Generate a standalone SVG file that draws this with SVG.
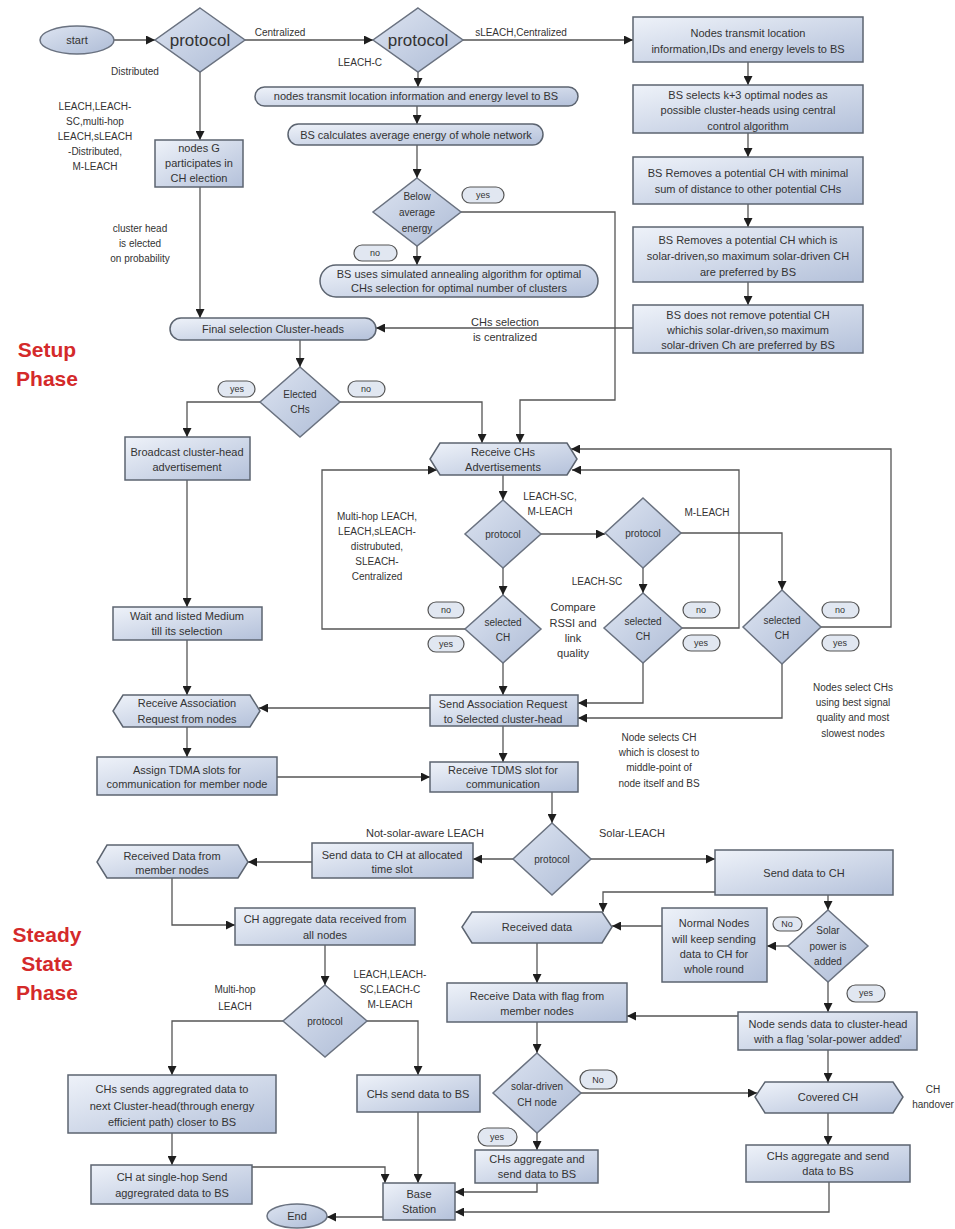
<svg xmlns="http://www.w3.org/2000/svg" width="955" height="1229" viewBox="0 0 955 1229">
<defs>
<linearGradient id="g" x1="0" y1="0" x2="1" y2="1"><stop offset="0" stop-color="#eef2f9"/><stop offset="1" stop-color="#b4c1da"/></linearGradient>
<linearGradient id="gd" x1="0" y1="0" x2="1" y2="1"><stop offset="0" stop-color="#dde4f1"/><stop offset="1" stop-color="#aebcd6"/></linearGradient>
<marker id="a" viewBox="0 0 10 10" refX="10" refY="5" markerWidth="9" markerHeight="9" orient="auto" markerUnits="userSpaceOnUse"><path d="M0,0 L10,5 L0,10 z" fill="#1e1e1e"/></marker>
<style>
.n{fill:url(#g);stroke:#5c6470;stroke-width:1.5}
.d{fill:url(#gd);stroke:#6a7280;stroke-width:1.5}
.c path{fill:none;stroke:#555;stroke-width:1.3}
.c .l{marker-end:url(#a)}
.t{font-family:"Liberation Sans",Arial,sans-serif;font-size:11px;fill:#333;text-anchor:middle}
.s{font-size:10px}
.pl{fill:#e1e7f1;stroke:#555;stroke-width:1.2}
.pt{font-family:"Liberation Sans",Arial,sans-serif;font-size:9px;fill:#333;text-anchor:middle}
.ph{font-family:"Liberation Sans",Arial,sans-serif;font-weight:bold;font-size:21px;fill:#d42a2a;text-anchor:middle}
</style>
</defs>
<rect width="955" height="1229" fill="#fff"/>

<g id="connectors" class="c">
<path class="l" d="M113,40 H155"/>
<path class="l" d="M245,40 H373"/>
<path class="l" d="M463,40 H633"/>
<path class="l" d="M200,72 V140"/>
<path class="l" d="M200,187 V318"/>
<path class="l" d="M418,72 V87"/>
<path class="l" d="M417,106 V124"/>
<path class="l" d="M417,145 V178"/>
<path class="l" d="M417,246 V265"/>
<path class="l" d="M461,212 H615 V400 H520 V443"/>
<path class="l" d="M748,62 V85"/>
<path class="l" d="M748,133 V157"/>
<path class="l" d="M748,204 V227"/>
<path class="l" d="M748,282 V305"/>
<path class="l" d="M633,328 H376"/>
<path class="l" d="M300,340 V367"/>
<path class="l" d="M260,402 H187 V437"/>
<path class="l" d="M340,402 H482 V443"/>
<path class="l" d="M187,480 V607"/>
<path class="l" d="M187,640 V695"/>
<path class="l" d="M187,727 V757"/>
<path class="l" d="M277,777 H430"/>
<path class="l" d="M503,475 V500"/>
<path class="l" d="M541,534 H605"/>
<path class="l" d="M503,568 V595"/>
<path class="l" d="M643,568 V593"/>
<path class="l" d="M681,533 H782 V590"/>
<path class="l" d="M465,629 H322 V470 H437"/>
<path class="l" d="M682,628 H739 V470 H572"/>
<path class="l" d="M821,627 H891 V449 H571"/>
<path class="l" d="M503,663 V695"/>
<path class="l" d="M643,663 V703 H578"/>
<path class="l" d="M782,664 V718 H578"/>
<path class="l" d="M430,708 H259"/>
<path class="l" d="M503,726 V762"/>
<path class="l" d="M552,792 V823"/>
<path class="l" d="M513,859 H473"/>
<path class="l" d="M591,859 H715"/>
<path class="l" d="M312,862 H248"/>
<path class="l" d="M172,878 V925 H235"/>
<path class="l" d="M325,945 V985"/>
<path class="l" d="M283,1021 H172 V1075"/>
<path class="l" d="M367,1021 H418 V1075"/>
<path class="l" d="M172,1133 V1165"/>
<path class="l" d="M252,1167 H385 V1183"/>
<path class="l" d="M418,1112 V1183"/>
<path class="l" d="M383,1217 H327"/>
<path class="l" d="M715,892 H603 V912"/>
<path class="l" d="M828,895 V910"/>
<path class="l" d="M788,946 H767"/>
<path class="l" d="M662,926 H612"/>
<path class="l" d="M537,943 V983"/>
<path class="l" d="M828,982 V1012"/>
<path class="l" d="M738,1016 H627"/>
<path class="l" d="M537,1022 V1053"/>
<path class="l" d="M581,1093 H757"/>
<path class="l" d="M537,1133 V1150"/>
<path class="l" d="M537,1183 V1192 H455"/>
<path class="l" d="M828,1050 V1082"/>
<path class="l" d="M828,1113 V1145"/>
<path class="l" d="M829,1182 V1212 H455"/>
</g>

<g id="phase-labels">
<text class="ph" x="47" y="357">Setup</text>
<text class="ph" x="47" y="386">Phase</text>
<text class="ph" x="47" y="942">Steady</text>
<text class="ph" x="47" y="971">State</text>
<text class="ph" x="47" y="1000">Phase</text>
</g>

<g id="edge-labels" class="t s">
<text class="t s" x="280" y="36">Centralized</text>
<text class="t s" x="521" y="36">sLEACH,Centralized</text>
<text class="t s" x="135" y="75">Distributed</text>
<text class="t s" x="360" y="66">LEACH-C</text>
<text class="t s" x="95" y="110">LEACH,LEACH-</text>
<text class="t s" x="95" y="125">SC,multi-hop</text>
<text class="t s" x="95" y="140">LEACH,sLEACH</text>
<text class="t s" x="95" y="155">-Distributed,</text>
<text class="t s" x="95" y="170">M-LEACH</text>
<text class="t s" x="140" y="232">cluster head</text>
<text class="t s" x="140" y="247">is elected</text>
<text class="t s" x="140" y="262">on probability</text>
<text class="t" x="505" y="326">CHs selection</text>
<text class="t" x="505" y="341">is centralized</text>
<text class="t s" x="550" y="500">LEACH-SC,</text>
<text class="t s" x="550" y="515">M-LEACH</text>
<text class="t s" x="377" y="520">Multi-hop LEACH,</text>
<text class="t s" x="377" y="535">LEACH,sLEACH-</text>
<text class="t s" x="377" y="550">distrubuted,</text>
<text class="t s" x="377" y="565">SLEACH-</text>
<text class="t s" x="377" y="580">Centralized</text>
<text class="t s" x="707" y="516">M-LEACH</text>
<text class="t s" x="597" y="585">LEACH-SC</text>
<text class="t" x="573" y="611">Compare</text>
<text class="t" x="573" y="627">RSSI and</text>
<text class="t" x="573" y="642">link</text>
<text class="t" x="573" y="657">quality</text>
<text class="t s" x="853" y="691">Nodes select CHs</text>
<text class="t s" x="853" y="706">using best signal</text>
<text class="t s" x="853" y="721">quality and most</text>
<text class="t s" x="853" y="737">slowest nodes</text>
<text class="t s" x="659" y="741">Node selects CH</text>
<text class="t s" x="659" y="756">which is closest to</text>
<text class="t s" x="659" y="771">middle-point of</text>
<text class="t s" x="659" y="787">node itself and BS</text>
<text class="t" x="425" y="837">Not-solar-aware LEACH</text>
<text class="t" x="632" y="837">Solar-LEACH</text>
<text class="t s" x="235" y="993">Multi-hop</text>
<text class="t s" x="235" y="1010">LEACH</text>
<text class="t s" x="390" y="978">LEACH,LEACH-</text>
<text class="t s" x="390" y="993">SC,LEACH-C</text>
<text class="t s" x="390" y="1008">M-LEACH</text>
<text class="t s" x="933" y="1093">CH</text>
<text class="t s" x="933" y="1108">handover</text>
</g>

<g id="pills">
<g id="pill-yes-below"><rect class="pl" x="462" y="187" width="42" height="16" rx="8"/><text class="pt" x="483" y="198">yes</text></g>
<g id="pill-no-below"><rect class="pl" x="354" y="245" width="43" height="16" rx="8"/><text class="pt" x="375" y="256">no</text></g>
<g id="pill-yes-elected"><rect class="pl" x="218" y="381" width="37" height="16" rx="8"/><text class="pt" x="237" y="392">yes</text></g>
<g id="pill-no-elected"><rect class="pl" x="348" y="381" width="37" height="16" rx="8"/><text class="pt" x="366" y="392">no</text></g>
<g id="pill-no-sel1"><rect class="pl" x="428" y="602" width="36" height="16" rx="8"/><text class="pt" x="446" y="613">no</text></g>
<g id="pill-yes-sel1"><rect class="pl" x="428" y="636" width="36" height="16" rx="8"/><text class="pt" x="446" y="647">yes</text></g>
<g id="pill-no-sel2"><rect class="pl" x="683" y="602" width="37" height="16" rx="8"/><text class="pt" x="701" y="613">no</text></g>
<g id="pill-yes-sel2"><rect class="pl" x="683" y="635" width="37" height="16" rx="8"/><text class="pt" x="701" y="646">yes</text></g>
<g id="pill-no-sel3"><rect class="pl" x="822" y="602" width="37" height="16" rx="8"/><text class="pt" x="840" y="613">no</text></g>
<g id="pill-yes-sel3"><rect class="pl" x="822" y="635" width="37" height="16" rx="8"/><text class="pt" x="840" y="646">yes</text></g>
<g id="pill-no-solar"><rect class="pl" x="773" y="917" width="29" height="14" rx="7"/><text class="pt" x="787" y="927">No</text></g>
<g id="pill-yes-solar"><rect class="pl" x="847" y="985" width="38" height="17" rx="8.5"/><text class="pt" x="866" y="996">yes</text></g>
<g id="pill-no-solardriven"><rect class="pl" x="580" y="1070" width="37" height="19" rx="9.5"/><text class="pt" x="598" y="1083">No</text></g>
<g id="pill-yes-solardriven"><rect class="pl" x="478" y="1128" width="39" height="18" rx="9"/><text class="pt" x="497" y="1140">yes</text></g>
</g>

<g id="start"><ellipse class="d" cx="77" cy="40" rx="37" ry="14"/><text class="t" x="77" y="44">start</text></g>
<g id="protocol1"><polygon class="d" points="200,8 245,40 200,72 155,40"/><text class="t" x="200" y="46" style="font-size:17px">protocol</text></g>
<g id="protocol2"><polygon class="d" points="418,8 463,40 418,72 373,40"/><text class="t" x="418" y="46" style="font-size:17px">protocol</text></g>
<g id="nodes-g"><rect class="n" x="155" y="140" width="88" height="47"/><text class="t" x="199" y="152">nodes G</text><text class="t" x="199" y="167">participates in</text><text class="t" x="199" y="182">CH election</text></g>
<g id="nodes-transmit"><rect class="n" x="255" y="87" width="323" height="19" rx="9.5"/><text class="t" x="416" y="100">nodes transmit location information and energy level to BS</text></g>
<g id="bs-calc"><rect class="n" x="288" y="124" width="255" height="21" rx="10.5"/><text class="t" x="416" y="139">BS calculates average energy of whole network</text></g>
<g id="below-avg"><polygon class="d" points="417,178 461,212 417,246 373,212"/><text class="t s" x="417" y="200">Below</text><text class="t s" x="417" y="216">average</text><text class="t s" x="417" y="232">energy</text></g>
<g id="bs-uses"><rect class="n" x="320" y="265" width="278" height="32" rx="16"/><text class="t" x="459" y="278">BS uses simulated annealing algorithm for optimal</text><text class="t" x="459" y="292">CHs selection for optimal number of clusters</text></g>
<g id="box1"><rect class="n" x="633" y="17" width="230" height="45"/><text class="t" x="748" y="37">Nodes transmit location</text><text class="t" x="748" y="53">information,IDs and energy levels to BS</text></g>
<g id="box2"><rect class="n" x="633" y="85" width="230" height="48"/><text class="t" x="748" y="99">BS selects k+3 optimal nodes as</text><text class="t" x="748" y="114">possible cluster-heads using central</text><text class="t" x="748" y="130">control algorithm</text></g>
<g id="box3"><rect class="n" x="633" y="157" width="230" height="47"/><text class="t" x="748" y="177">BS Removes a potential CH with minimal</text><text class="t" x="748" y="193">sum of distance to other potential CHs</text></g>
<g id="box4"><rect class="n" x="633" y="227" width="230" height="55"/><text class="t" x="748" y="244">BS Removes a potential CH which is</text><text class="t" x="748" y="260">solar-driven,so maximum solar-driven CH</text><text class="t" x="748" y="276">are preferred by BS</text></g>
<g id="box5"><rect class="n" x="633" y="305" width="230" height="48"/><text class="t" x="748" y="319">BS does not remove potential CH</text><text class="t" x="748" y="334">whichis solar-driven,so maximum</text><text class="t" x="748" y="349">solar-driven Ch are preferred by BS</text></g>
<g id="final-selection"><rect class="n" x="170" y="318" width="206" height="22" rx="11"/><text class="t" x="273" y="333">Final selection Cluster-heads</text></g>
<g id="elected"><polygon class="d" points="300,367 340,402 300,437 260,402"/><text class="t s" x="300" y="398">Elected</text><text class="t s" x="300" y="413">CHs</text></g>
<g id="broadcast"><rect class="n" x="125" y="437" width="125" height="43"/><text class="t" x="187" y="456">Broadcast cluster-head</text><text class="t" x="187" y="471">advertisement</text></g>
<g id="receive-chs"><polygon class="n" points="440,443 567,443 577,459 567,475 440,475 430,459"/><text class="t" x="503" y="456">Receive CHs</text><text class="t" x="503" y="471">Advertisements</text></g>
<g id="protocol3"><polygon class="d" points="503,500 541,534 503,568 465,534"/><text class="t s" x="503" y="538">protocol</text></g>
<g id="protocol4"><polygon class="d" points="643,498 681,533 643,568 605,533"/><text class="t s" x="643" y="537">protocol</text></g>
<g id="selected1"><polygon class="d" points="503,595 541,629 503,663 465,629"/><text class="t s" x="503" y="626">selected</text><text class="t s" x="503" y="641">CH</text></g>
<g id="selected2"><polygon class="d" points="643,593 682,628 643,663 604,628"/><text class="t s" x="643" y="625">selected</text><text class="t s" x="643" y="640">CH</text></g>
<g id="selected3"><polygon class="d" points="782,590 821,627 782,664 743,627"/><text class="t s" x="782" y="624">selected</text><text class="t s" x="782" y="639">CH</text></g>
<g id="wait"><rect class="n" x="113" y="607" width="149" height="33"/><text class="t" x="187" y="620">Wait and listed Medium</text><text class="t" x="187" y="635">till its selection</text></g>
<g id="receive-assoc"><polygon class="n" points="123,695 250,695 260,711 250,727 123,727 113,711"/><text class="t" x="187" y="707">Receive Association</text><text class="t" x="187" y="723">Request from nodes</text></g>
<g id="send-assoc"><rect class="n" x="430" y="695" width="148" height="31"/><text class="t" x="503" y="708">Send Association Request</text><text class="t" x="503" y="723">to Selected cluster-head</text></g>
<g id="assign"><rect class="n" x="97" y="757" width="180" height="38"/><text class="t" x="187" y="774">Assign TDMA slots for</text><text class="t" x="187" y="788">communication for member node</text></g>
<g id="receive-tdms"><rect class="n" x="430" y="762" width="148" height="30"/><text class="t" x="503" y="774">Receive TDMS slot for</text><text class="t" x="503" y="788">communication</text></g>
<g id="protocol5"><polygon class="d" points="552,823 591,859 552,895 513,859"/><text class="t s" x="552" y="863">protocol</text></g>
<g id="send-slot"><rect class="n" x="312" y="843" width="161" height="35"/><text class="t" x="392" y="859">Send data to CH at allocated</text><text class="t" x="392" y="873">time slot</text></g>
<g id="received-member"><polygon class="n" points="107,845 238,845 248,862 238,878 107,878 97,862"/><text class="t" x="172" y="860">Received Data from</text><text class="t" x="172" y="874">member nodes</text></g>
<g id="send-ch"><rect class="n" x="715" y="850" width="178" height="45"/><text class="t" x="804" y="877">Send data to CH</text></g>
<g id="ch-aggregate"><rect class="n" x="235" y="908" width="180" height="37"/><text class="t" x="325" y="923">CH aggregate data received from</text><text class="t" x="325" y="939">all nodes</text></g>
<g id="received-data"><polygon class="n" points="472,912 602,912 612,927 602,943 472,943 462,927"/><text class="t" x="537" y="931">Received data</text></g>
<g id="normal-nodes"><rect class="n" x="662" y="908" width="105" height="74"/><text class="t" x="714" y="927">Normal Nodes</text><text class="t" x="714" y="943">will keep sending</text><text class="t" x="714" y="958">data to CH for</text><text class="t" x="714" y="973">whole round</text></g>
<g id="solar-power"><polygon class="d" points="828,910 868,946 828,982 788,946"/><text class="t s" x="828" y="934">Solar</text><text class="t s" x="828" y="950">power is</text><text class="t s" x="828" y="965">added</text></g>
<g id="protocol6"><polygon class="d" points="325,985 367,1021 325,1057 283,1021"/><text class="t s" x="325" y="1025">protocol</text></g>
<g id="receive-flag"><rect class="n" x="447" y="983" width="180" height="39"/><text class="t" x="537" y="1000">Receive Data with flag from</text><text class="t" x="537" y="1015">member nodes</text></g>
<g id="node-sends"><rect class="n" x="738" y="1012" width="179" height="38"/><text class="t" x="828" y="1028">Node sends data to cluster-head</text><text class="t" x="828" y="1043">with a flag 'solar-power added'</text></g>
<g id="solar-driven"><polygon class="d" points="537,1053 581,1093 537,1133 493,1093"/><text class="t s" x="537" y="1090">solar-driven</text><text class="t s" x="537" y="1106">CH node</text></g>
<g id="covered-ch"><polygon class="n" points="765,1082 893,1082 903,1097 893,1113 765,1113 755,1097"/><text class="t" x="828" y="1101">Covered CH</text></g>
<g id="chs-sends"><rect class="n" x="68" y="1075" width="208" height="58"/><text class="t" x="172" y="1093">CHs sends aggregrated data to</text><text class="t" x="172" y="1110">next Cluster-head(through energy</text><text class="t" x="172" y="1126">efficient path) closer to BS</text></g>
<g id="chs-send-bs"><rect class="n" x="357" y="1075" width="123" height="37"/><text class="t" x="418" y="1098">CHs send data to BS</text></g>
<g id="chs-agg-mid"><rect class="n" x="475" y="1150" width="123" height="33"/><text class="t" x="537" y="1163">CHs aggregate and</text><text class="t" x="537" y="1178">send data to BS</text></g>
<g id="chs-agg-right"><rect class="n" x="746" y="1145" width="164" height="37"/><text class="t" x="828" y="1160">CHs aggregate and send</text><text class="t" x="828" y="1175">data to BS</text></g>
<g id="single-hop"><rect class="n" x="91" y="1165" width="161" height="39"/><text class="t" x="172" y="1181">CH at single-hop Send</text><text class="t" x="172" y="1197">aggregrated data to BS</text></g>
<g id="base-station"><rect class="n" x="383" y="1183" width="72" height="37"/><text class="t" x="419" y="1198">Base</text><text class="t" x="419" y="1213">Station</text></g>
<g id="end"><ellipse class="d" cx="297" cy="1216" rx="30" ry="12"/><text class="t" x="297" y="1220">End</text></g>
</svg>
